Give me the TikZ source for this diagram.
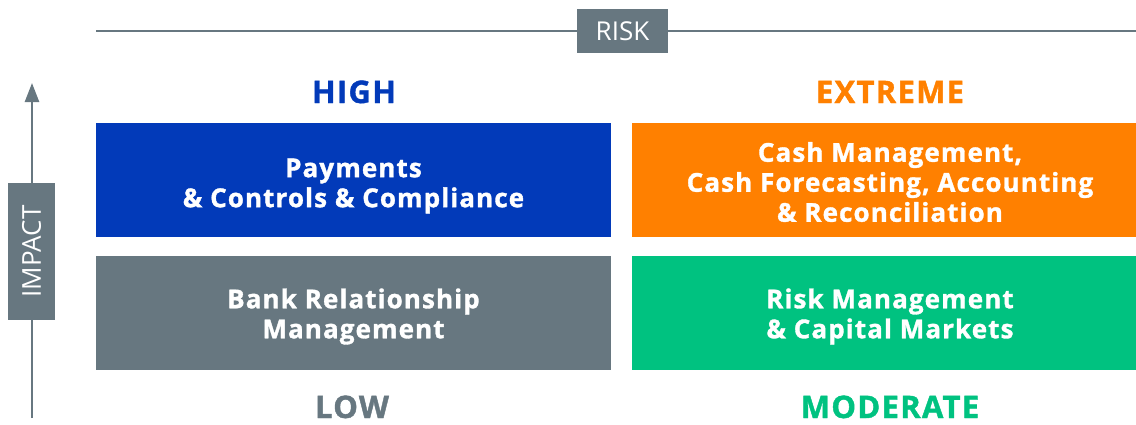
\documentclass[tikz,border=0pt]{standalone}
\usepackage{fontspec}
\setmainfont{Open Sans}[BoldFeatures={FakeBold=1.3, LetterSpace=4.2}]
\usetikzlibrary{arrows.meta}
\definecolor{slate}{RGB}{103,119,128}
\definecolor{qblue}{RGB}{2,58,185}
\definecolor{qorange}{RGB}{255,128,0}
\definecolor{qgreen}{RGB}{0,194,128}
\begin{document}
\begin{tikzpicture}[x=1pt,y=-1pt,
  quad/.style={rectangle, inner sep=0pt, minimum width=516pt, minimum height=114pt,
    align=center, text=white, font=\fontsize{26}{30}\selectfont\bfseries},
  head/.style={anchor=base, font=\fontsize{31}{36}\selectfont\bfseries},
  axislabel/.style={rectangle, fill=slate, inner sep=0pt, text=white,
    font=\fontsize{26}{30}\selectfont},
  axisline/.style={draw=slate, line width=2.5pt}]
\useasboundingbox (0,0) rectangle (1136,424);

% horizontal risk axis
\coordinate (rl) at (96,31);
\coordinate (rr) at (1145,31);
\draw[axisline] (rl) -- (rr);
\node[axislabel, minimum width=91pt, minimum height=44pt] (risk) at (622.5,31) {RISK};

% vertical impact axis
\coordinate (ib) at (32,418);
\coordinate (it) at (32,83);
\draw[axisline, -{Triangle[length=19pt,width=14pt]}] (ib) -- (it);
\node[axislabel, rotate=90, minimum width=137pt, minimum height=47pt] (impact) at (31.5,251.5) {IMPACT};

% column/row headings
\node[head, text=qblue] (high) at (354,103) {HIGH};
\node[head, text=qorange] (extreme) at (890,103) {EXTREME};
\node[head, text=slate] (low) at (352,418) {LOW};
\node[head, text=qgreen] (moderate) at (890,418) {MODERATE};

% quadrant panels
\node[quad, fill=qblue, minimum width=515pt] (q1) at (353.5,180) {};
\node[quad, fill=qorange] (q2) at (890,180) {};
\node[quad, fill=slate, minimum width=515pt] (q3) at (353.5,312.5) {};
\node[quad, fill=qgreen] (q4) at (890,312.5) {};
% quadrant captions
\node[quad, minimum height=0pt] (t1) at ([yshift=-6pt]q1.center) {Payments\\\& Controls \& Compliance};
\node[quad, minimum height=0pt] (t2) at ([yshift=-2pt]q2.center) {Cash Management,\\Cash Forecasting, Accounting\\\& Reconciliation};
\node[quad, minimum height=0pt] (t3) at ([yshift=-4pt]q3.center) {Bank Relationship\\Management};
\node[quad, minimum height=0pt] (t4) at ([yshift=-4pt]q4.center) {Risk Management\\\& Capital Markets};
\end{tikzpicture}
\end{document}
